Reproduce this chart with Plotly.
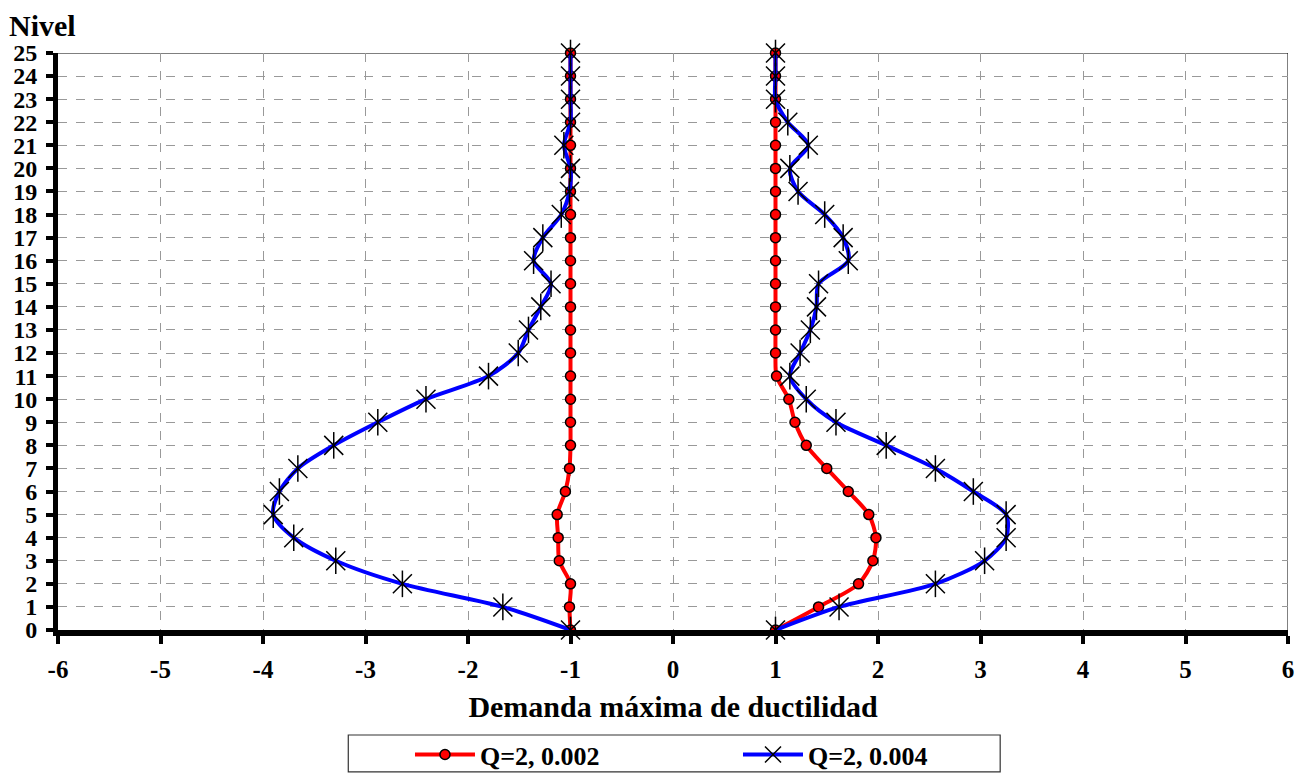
import plotly.graph_objects as go

levels = list(range(26))

red_left = [-1.0, -1.01, -1.0, -1.11, -1.12, -1.13, -1.05, -1.01, -1.0, -1.0,
            -1.0, -1.0, -1.0, -1.0, -1.0, -1.0, -1.0, -1.0, -1.0, -1.0,
            -1.0, -1.0, -1.0, -1.0, -1.0, -1.0]
red_right = [1.0, 1.42, 1.81, 1.95, 1.98, 1.91, 1.71, 1.50, 1.30, 1.19,
             1.13, 1.01, 1.0, 1.0, 1.0, 1.0, 1.0, 1.0, 1.0, 1.0,
             1.0, 1.0, 1.0, 1.0, 1.0, 1.0]
blue_left = [-1.0, -1.66, -2.64, -3.29, -3.70, -3.90, -3.84, -3.66, -3.31, -2.88,
             -2.41, -1.80, -1.51, -1.41, -1.29, -1.19, -1.36, -1.27, -1.09, -1.01,
             -1.0, -1.065, -1.0, -1.0, -1.0, -1.0]
blue_right = [1.0, 1.62, 2.56, 3.04, 3.25, 3.25, 2.93, 2.56, 2.08, 1.59,
              1.30, 1.14, 1.24, 1.34, 1.40, 1.42, 1.71, 1.66, 1.48, 1.22,
              1.14, 1.32, 1.12, 1.0, 1.0, 1.0]

name_red = "Q=2, 0.002"
name_blue = "Q=2, 0.004"
x_ticks = list(range(-6, 7))
y_ticks = list(range(0, 26))

FONT = "Liberation Serif, Times New Roman, serif"

fig = go.Figure()

red_marker = dict(symbol="circle", size=10, color="#ff0000", line=dict(color="black", width=1.5))
blue_marker = dict(symbol="x-thin-open", size=19, color="black", line=dict(color="black", width=1.5))
blue_marker2 = dict(symbol="line-ns-open", size=19, color="black", line=dict(color="black", width=1.5))

for xs, show in [(red_left, True), (red_right, False)]:
    fig.add_trace(go.Scatter(x=xs, y=levels, mode="lines+markers", name=name_red,
                             legendgroup="red", showlegend=show,
                             line=dict(color="#ff0000", width=4, shape="spline", smoothing=0.8),
                             marker=red_marker, cliponaxis=False))
for xs, show in [(blue_left, True), (blue_right, False)]:
    fig.add_trace(go.Scatter(x=xs, y=levels, mode="lines+markers", name=name_blue,
                             legendgroup="blue", showlegend=show,
                             line=dict(color="#0000ff", width=4, shape="spline", smoothing=0.8),
                             marker=blue_marker, cliponaxis=False))
    fig.add_trace(go.Scatter(x=xs, y=levels, mode="markers", name=name_blue,
                             legendgroup="blue", showlegend=False,
                             marker=blue_marker2, cliponaxis=False, hoverinfo="skip"))

fig.update_layout(
    width=1298, height=765,
    margin=dict(l=50, r=18, t=45, b=143, autoexpand=False),
    paper_bgcolor="white", plot_bgcolor="white",
    font=dict(family=FONT, color="black"),
    showlegend=True,
    legend=dict(orientation="h", xref="container", yref="container",
                x=0.3097, y=0.024, xanchor="left", yanchor="middle",
                bgcolor="rgba(0,0,0,0)", borderwidth=0,
                font=dict(family=FONT, size=26, weight="bold", color="black"),
                entrywidth=253, entrywidthmode="pixels", traceorder="normal",
                itemwidth=60),
    xaxis=dict(range=[-6, 6], tickvals=x_ticks, ticktext=[str(v) for v in x_ticks],
               showgrid=True, gridcolor="#999999", griddash="dash", gridwidth=1,
               zeroline=False, showline=True, linecolor="black", linewidth=6,
               ticks="outside", ticklen=8, tickwidth=4, tickcolor="black",
               ticklabelstandoff=4, automargin=False,
               tickfont=dict(family=FONT, size=25, weight="bold"),
               title=dict(text="Demanda máxima de ductilidad", standoff=16,
                          font=dict(family=FONT, size=30, weight="bold"))),
    yaxis=dict(range=[0, 25], tickvals=y_ticks, ticktext=[str(v) for v in y_ticks],
               showgrid=True, gridcolor="#999999", griddash="dash", gridwidth=1,
               zeroline=False, showline=True, linecolor="black", linewidth=5,
               ticks="outside", ticklen=7, tickwidth=4, tickcolor="black",
               ticklabelstandoff=4, automargin=False,
               tickfont=dict(family=FONT, size=24, weight="bold")),
    shapes=[
        dict(type="line", xref="x", yref="y", x0=-6, x1=6, y0=25, y1=25,
             line=dict(color="#555555", width=1.5), layer="below"),
        dict(type="line", xref="x", yref="y", x0=6, x1=6, y0=0, y1=25,
             line=dict(color="black", width=1), layer="below"),
        dict(type="rect", xref="paper", yref="paper", x0=0.236, x1=0.766,
             y0=-0.246, y1=-0.182, line=dict(color="#333333", width=1.2),
             fillcolor="rgba(0,0,0,0)"),
    ],
    annotations=[
        dict(text="Nivel", xref="paper", yref="paper", x=-0.0405, y=1.078,
             xanchor="left", yanchor="top", showarrow=False, borderpad=0,
             font=dict(family=FONT, size=30, weight="bold")),
    ],
)

fig.write_html("out.html")
